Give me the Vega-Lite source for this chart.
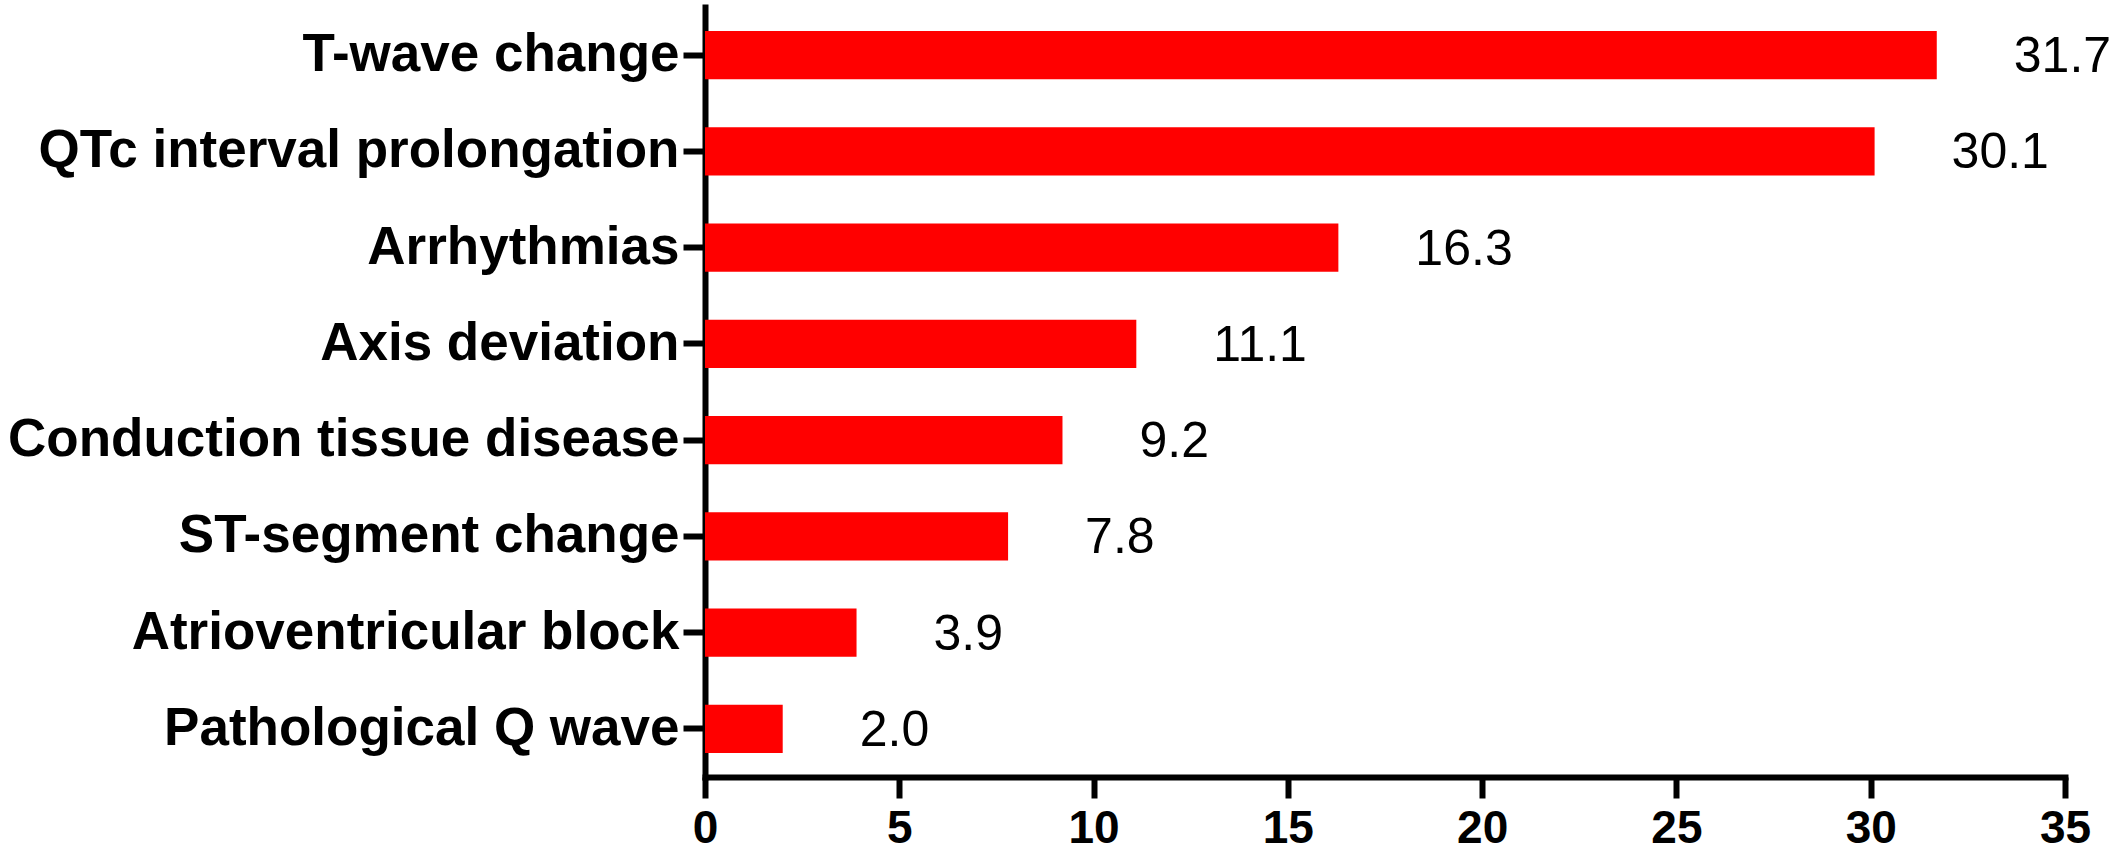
{
  "$schema": "https://vega.github.io/schema/vega-lite/v6.json",
  "width": 1360,
  "height": 770,
  "autosize": {"type": "none"},
  "padding": {"left": 705, "top": 7, "right": 63, "bottom": 81},
  "background": "white",
  "config": {"view": {"stroke": null}},
  "data": {
    "values": [
      {"category": "T-wave change", "value": 31.7},
      {"category": "QTc interval prolongation", "value": 30.1},
      {"category": "Arrhythmias", "value": 16.3},
      {"category": "Axis deviation", "value": 11.1},
      {"category": "Conduction tissue disease", "value": 9.2},
      {"category": "ST-segment change", "value": 7.8},
      {"category": "Atrioventricular block", "value": 3.9},
      {"category": "Pathological Q wave", "value": 2.0}
    ]
  },
  "encoding": {
    "y": {
      "field": "category",
      "type": "nominal",
      "sort": null,
      "scale": {"paddingInner": 0.5, "paddingOuter": 0.25},
      "axis": {
        "title": null,
        "domainColor": "black",
        "domainWidth": 6,
        "domainCap": "square",
        "tickColor": "black",
        "tickWidth": 6,
        "tickSize": 22,
        "labelFont": "Liberation Sans",
        "labelFontWeight": "bold",
        "labelFontSize": 53,
        "labelColor": "black",
        "labelPadding": 4,
        "labelLimit": 1000
      }
    }
  },
  "layer": [
    {
      "mark": {"type": "bar", "color": "#ff0000"},
      "encoding": {
        "x": {
          "field": "value",
          "type": "quantitative",
          "scale": {"domain": [0, 35], "nice": false},
          "axis": {
            "title": null,
            "grid": false,
            "values": [0, 5, 10, 15, 20, 25, 30, 35],
            "format": "d",
            "domainColor": "black",
            "domainWidth": 6,
            "domainCap": "square",
            "tickColor": "black",
            "tickWidth": 6,
            "tickSize": 21,
            "labelFont": "Liberation Sans",
            "labelFontWeight": "bold",
            "labelFontSize": 46,
            "labelColor": "black",
            "labelPadding": 8,
            "labelFlush": false
          }
        }
      }
    },
    {
      "mark": {
        "type": "text",
        "align": "left",
        "baseline": "middle",
        "dx": 77,
        "dy": 2,
        "font": "Liberation Sans",
        "fontSize": 50,
        "color": "black"
      },
      "encoding": {
        "x": {"field": "value", "type": "quantitative"},
        "text": {"field": "value", "type": "quantitative", "format": ".1f"}
      }
    }
  ]
}
